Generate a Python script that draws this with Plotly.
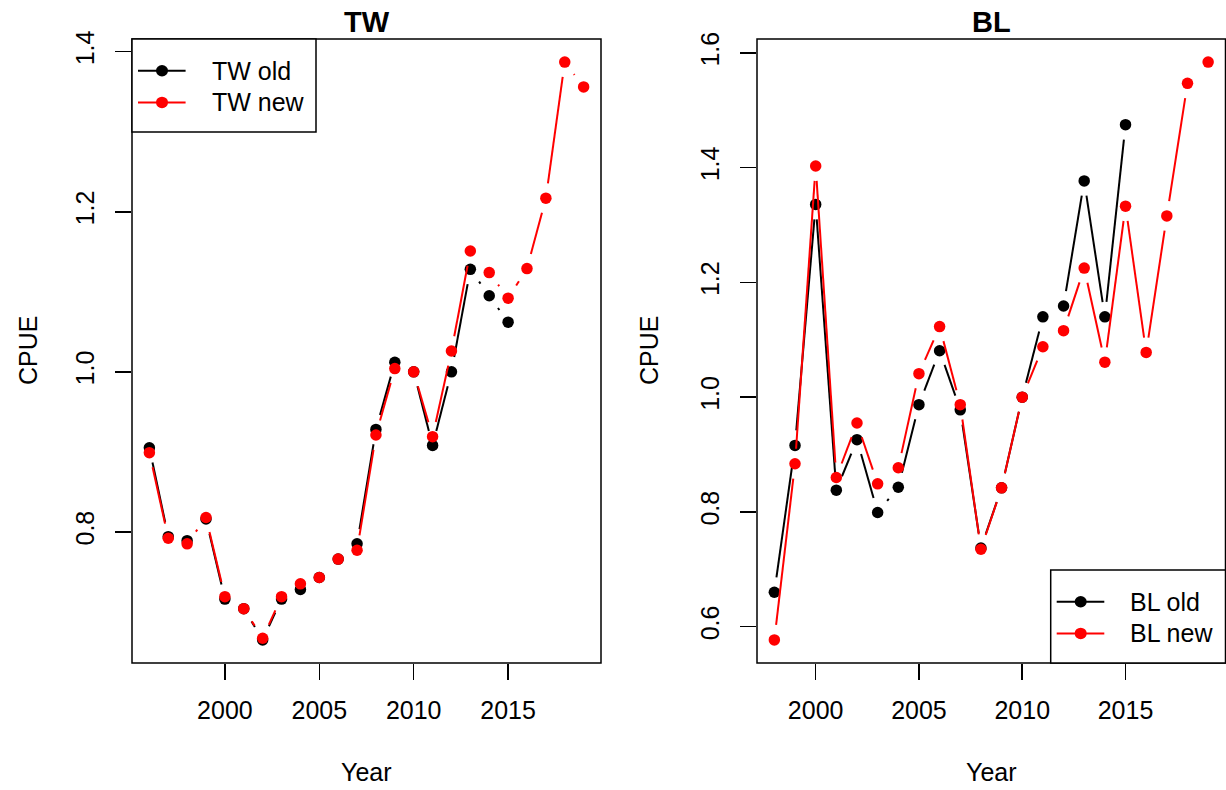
import plotly.graph_objects as go

W, H = 1226, 790
FONT = "Liberation Sans, Arial, sans-serif"
FS = 25

# ---------------- data ----------------
tw_years_old = list(range(1996, 2016))
tw_old = [0.905, 0.794, 0.789, 0.816, 0.716, 0.704, 0.665, 0.716, 0.728, 0.743,
          0.766, 0.785, 0.928, 1.012, 1.000, 0.908, 1.000, 1.128, 1.095, 1.062]
tw_years_new = list(range(1996, 2020))
tw_new = [0.899, 0.792, 0.785, 0.818, 0.719, 0.704, 0.667, 0.719, 0.735, 0.743,
          0.766, 0.777, 0.921, 1.004, 1.000, 0.919, 1.026, 1.151, 1.124, 1.092,
          1.129, 1.217, 1.387, 1.356]

bl_years_old = list(range(1998, 2016))
bl_old = [0.660, 0.916, 1.336, 0.838, 0.926, 0.799, 0.843, 0.987, 1.081, 0.978,
          0.737, 0.842, 1.000, 1.140, 1.159, 1.377, 1.140, 1.475]
bl_years_new = list(range(1998, 2020))
bl_new = [0.577, 0.884, 1.403, 0.860, 0.955, 0.849, 0.877, 1.041, 1.123, 0.987,
          0.735, 0.842, 1.000, 1.088, 1.116, 1.225, 1.061, 1.333, 1.078, 1.316,
          1.547, 1.584]

x_ticks = [2000, 2005, 2010, 2015]
tw_y_ticks = [0.8, 1.0, 1.2, 1.4]
bl_y_ticks = [0.6, 0.8, 1.0, 1.2, 1.4, 1.6]

# ---------------- geometry (pixels) ----------------
BOX_TOP, BOX_BOT = 39, 663
LEFT_BOX = (132, 601)
RIGHT_BOX = (757, 1225.5)
GAP = 15  # R type="b" gap around points


def px_x(p):
    return p / W


def px_y(p):
    return 1 - p / H


def rlim(*arrs):
    vals = [v for a in arrs for v in a]
    lo, hi = min(vals), max(vals)
    d = (hi - lo) * 0.04
    return [lo - d, hi + d]


def gapped(xs, ys, xr, yr, box):
    bx0, bx1 = box
    sx = (bx1 - bx0) / (xr[1] - xr[0])
    sy = (BOX_BOT - BOX_TOP) / (yr[1] - yr[0])
    ox, oy = [], []
    for i in range(len(xs) - 1):
        dx = (xs[i + 1] - xs[i]) * sx
        dy = (ys[i + 1] - ys[i]) * sy
        L = (dx * dx + dy * dy) ** 0.5
        if L <= 2 * GAP:
            continue
        f = GAP / L
        ddx, ddy = xs[i + 1] - xs[i], ys[i + 1] - ys[i]
        ox += [xs[i] + f * ddx, xs[i + 1] - f * ddx, None]
        oy += [ys[i] + f * ddy, ys[i + 1] - f * ddy, None]
    return ox, oy


def text(x, y, s, size=FS, angle=0, xanchor="center"):
    fig.add_annotation(x=px_x(x), y=px_y(y), xref="paper", yref="paper", text=s,
                       showarrow=False, textangle=angle, xanchor=xanchor, yanchor="middle",
                       font=dict(family=FONT, size=size, color="black"))


fig = go.Figure()

panels = [
    ("x", "y", LEFT_BOX, tw_years_old, tw_old, tw_years_new, tw_new, tw_y_ticks, "TW", 28),
    ("x2", "y2", RIGHT_BOX, bl_years_old, bl_old, bl_years_new, bl_new, bl_y_ticks, "BL", 649),
]

for xa, ya, box, xo, yo, xn, yn, yt, name, ylab_x in panels:
    xr = rlim(xo, xn)
    yr = rlim(yo, yn)
    for xs, ys, col in [(xo, yo, "black"), (xn, yn, "red")]:
        gx, gy = gapped(xs, ys, xr, yr, box)
        fig.add_trace(go.Scatter(x=gx, y=gy, mode="lines", xaxis=xa, yaxis=ya,
                                 line=dict(color=col, width=2), hoverinfo="skip",
                                 showlegend=False, cliponaxis=False))
        fig.add_trace(go.Scatter(x=xs, y=ys, mode="markers", xaxis=xa, yaxis=ya,
                                 marker=dict(color=col, size=11.5, line=dict(width=0)),
                                 showlegend=False, cliponaxis=False,
                                 name=f"{name} {'old' if col == 'black' else 'new'}"))
    axx = dict(domain=[px_x(box[0]), px_x(box[1])], range=xr, tickvals=x_ticks,
               ticktext=[str(t) for t in x_ticks], ticks="outside", ticklen=16,
               tickwidth=1.5, tickcolor="black", showgrid=False, zeroline=False,
               showline=False, tickfont=dict(family=FONT, size=FS, color="black"),
               anchor=ya, automargin=False, ticklabelstandoff=9)
    axy = dict(domain=[px_y(BOX_BOT), px_y(BOX_TOP)], range=yr, tickvals=yt,
               ticktext=[f"{t:.1f}" for t in yt], ticks="outside", ticklen=16,
               tickwidth=1.5, tickcolor="black", showgrid=False, zeroline=False,
               showline=False, tickangle=-90, automargin=False,
               tickfont=dict(family=FONT, size=FS, color="black"), anchor=xa,
               ticklabelstandoff=11)
    key = "" if xa == "x" else "2"
    fig.layout["xaxis" + key] = axx
    fig.layout["yaxis" + key] = axy
    fig.add_shape(type="rect", xref=f"{xa} domain", yref=f"{ya} domain",
                  x0=0, x1=1, y0=0, y1=1, line=dict(color="black", width=1.5))
    cx = (box[0] + box[1]) / 2
    text(cx, 22, f"<b>{name}</b>", size=29)
    text(cx, 772, "Year")
    text(ylab_x, (BOX_TOP + BOX_BOT) / 2, "CPUE", angle=-90)


# ---------------- legends (R style boxes) ----------------
def legend(left, top, width, labels):
    fig.add_shape(type="rect", xref="paper", yref="paper", x0=px_x(left), x1=px_x(left + width),
                  y0=px_y(top + 93), y1=px_y(top), line=dict(color="black", width=1.5),
                  fillcolor="white", layer="above")
    for i, (lab, col) in enumerate(labels):
        ry = top + 31.7 * (i + 1)
        fig.add_shape(type="line", xref="paper", yref="paper", x0=px_x(left + 6),
                      x1=px_x(left + 53.6), y0=px_y(ry), y1=px_y(ry),
                      line=dict(color=col, width=2), layer="above")
        fig.add_shape(type="circle", xref="paper", yref="paper", xsizemode="pixel",
                      ysizemode="pixel", xanchor=px_x(left + 30), yanchor=px_y(ry),
                      x0=-6, x1=6, y0=-5.75, y1=5.75, fillcolor=col, line=dict(width=0),
                      layer="above")
        text(left + 77.6, ry, lab, xanchor="left")


legend(LEFT_BOX[0], BOX_TOP, 184, [("TW old", "black"), ("TW new", "red")])
legend(1050.7, BOX_BOT - 93, RIGHT_BOX[1] - 1050.7, [("BL old", "black"), ("BL new", "red")])

fig.update_layout(template="none", width=W, height=H,
                  margin=dict(l=0, r=0, t=0, b=0, pad=0, autoexpand=False),
                  paper_bgcolor="white", plot_bgcolor="white", showlegend=False,
                  font=dict(family=FONT, size=FS, color="black"))

fig.write_html("out.html", config={"displayModeBar": False, "staticPlot": True},
               post_script="document.body.style.margin='0px';document.body.style.overflow='hidden';")
